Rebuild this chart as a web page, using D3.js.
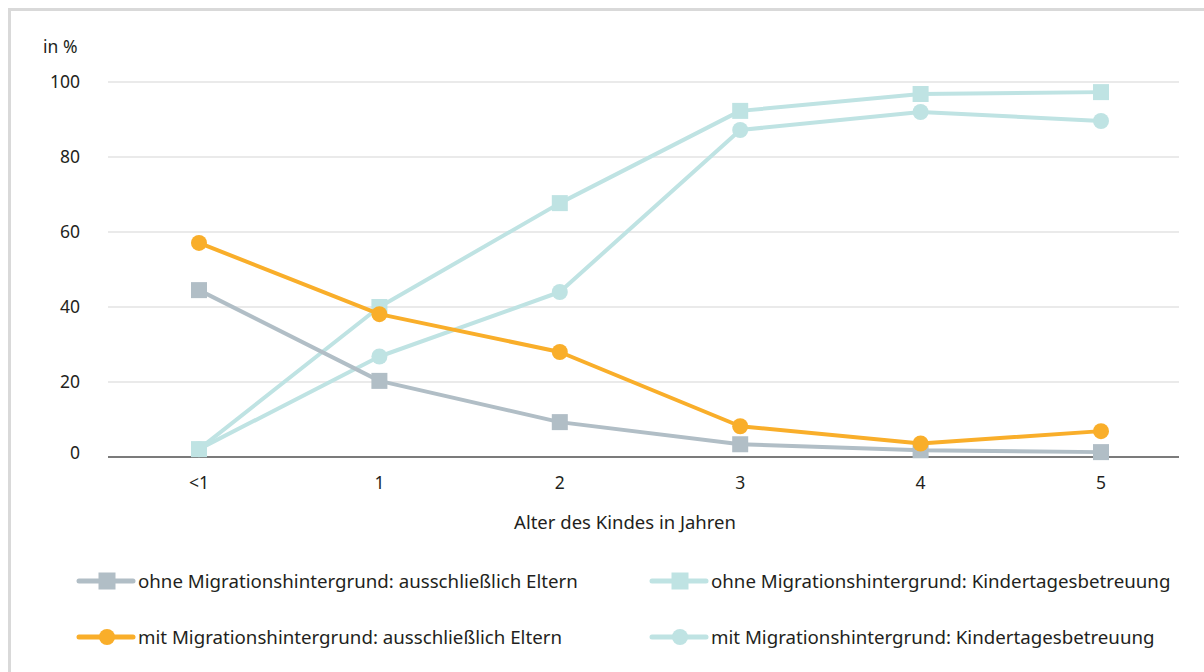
<!DOCTYPE html>
<html><head><meta charset="utf-8">
<script src="https://cdn.jsdelivr.net/npm/d3@7"></script>
<style>body{margin:0;background:#fff}text{font-family:"Noto Sans",sans-serif;fill:#231f20}</style>
</head><body><svg id="c" width="1204" height="672"></svg>
<script>
const categories = ["<1","1","2","3","4","5"];
const ohneEltern = [44.5,20.3,9.3,3.4,1.8,1.3];
const ohneKita = [2.1,40.0,67.7,92.3,96.8,97.3];
const mitEltern = [57.1,38.1,28.0,8.2,3.6,6.9];
const mitKita = [2.1,26.8,44.0,87.2,92.0,89.6];
const yTicks = [0,20,40,60,80,100];
const seriesNames = ["ohne Migrationshintergrund: ausschließlich Eltern","ohne Migrationshintergrund: Kindertagesbetreuung","mit Migrationshintergrund: ausschließlich Eltern","mit Migrationshintergrund: Kindertagesbetreuung"];
const colors = ["#b1bec6","#bfe3e3","#f9ae2a","#bfe3e3"];
const shapes = ["square","square","circle","circle"];
const series = [ohneEltern, ohneKita, mitEltern, mitKita];

const svg = d3.select("#c");
svg.append("rect").attr("x",9.5).attr("y",9.5).attr("width",1400).attr("height",800)
  .attr("fill","none").attr("stroke","#d9d9d9").attr("stroke-width",3);

const x = d3.scalePoint().domain(categories).range([199,1101]);
const y = d3.scaleLinear().domain([0,100]).range([457,82]);
const x0 = 108, x1 = 1179;

// grid
svg.append("g").selectAll("line").data(yTicks.filter(d=>d>0)).join("line")
  .attr("x1",x0).attr("x2",x1).attr("y1",d=>y(d)).attr("y2",d=>y(d))
  .attr("stroke","#e3e3e3").attr("stroke-width",1.5);
// y labels
svg.append("g").selectAll("text").data(yTicks).join("text")
  .attr("x",80).attr("y",d=>y(d)-(d===0?4:0)).attr("dy","0.35em").attr("text-anchor","end")
  .attr("font-size",17.5).text(d=>d);
svg.append("text").attr("x",43).attr("y",53).attr("font-size",17.5).text("in %");

// x axis
svg.append("line").attr("x1",x0).attr("x2",x1).attr("y1",y(0)).attr("y2",y(0))
  .attr("stroke","#7b7b7b").attr("stroke-width",2);
svg.append("g").selectAll("text").data(categories).join("text")
  .attr("x",d=>x(d)).attr("y",489).attr("text-anchor","middle").attr("font-size",17.5).text(d=>d);
svg.append("text").attr("x",625).attr("y",529).attr("text-anchor","middle").attr("font-size",18.5)
  .text("Alter des Kindes in Jahren");

// series
const order = [3,1,0,2];
const line = d3.line().x((d,i)=>x(categories[i])).y(d=>y(d));
order.forEach(k=>{
  const g = svg.append("g");
  g.append("path").datum(series[k]).attr("d",line).attr("fill","none")
    .attr("stroke",colors[k]).attr("stroke-width",4).attr("stroke-linejoin","round");
  series[k].forEach((v,i)=>{
    const cx = x(categories[i]), cy = y(v);
    if(shapes[k]==="square") g.append("rect").attr("x",cx-8).attr("y",cy-8).attr("width",16).attr("height",16).attr("fill",colors[k]);
    else g.append("circle").attr("cx",cx).attr("cy",cy).attr("r",8).attr("fill",colors[k]);
  });
});

// legend
const legPos = [[79,581],[652,581],[79,637],[652,637]];
seriesNames.forEach((n,k)=>{
  const [lx,ly] = legPos[k];
  const g = svg.append("g");
  g.append("line").attr("x1",lx).attr("x2",lx+54).attr("y1",ly).attr("y2",ly)
    .attr("stroke",colors[k]).attr("stroke-width",5).attr("stroke-linecap","round");
  const mx = lx+28;
  if(shapes[k]==="square") g.append("rect").attr("x",mx-8.5).attr("y",ly-8.5).attr("width",17).attr("height",17).attr("fill",colors[k]);
  else g.append("circle").attr("cx",mx).attr("cy",ly).attr("r",8).attr("fill",colors[k]);
  g.append("text").attr("x",lx+59).attr("y",ly).attr("dy","0.35em").attr("font-size",18.7).text(n);
});
</script></body></html>
